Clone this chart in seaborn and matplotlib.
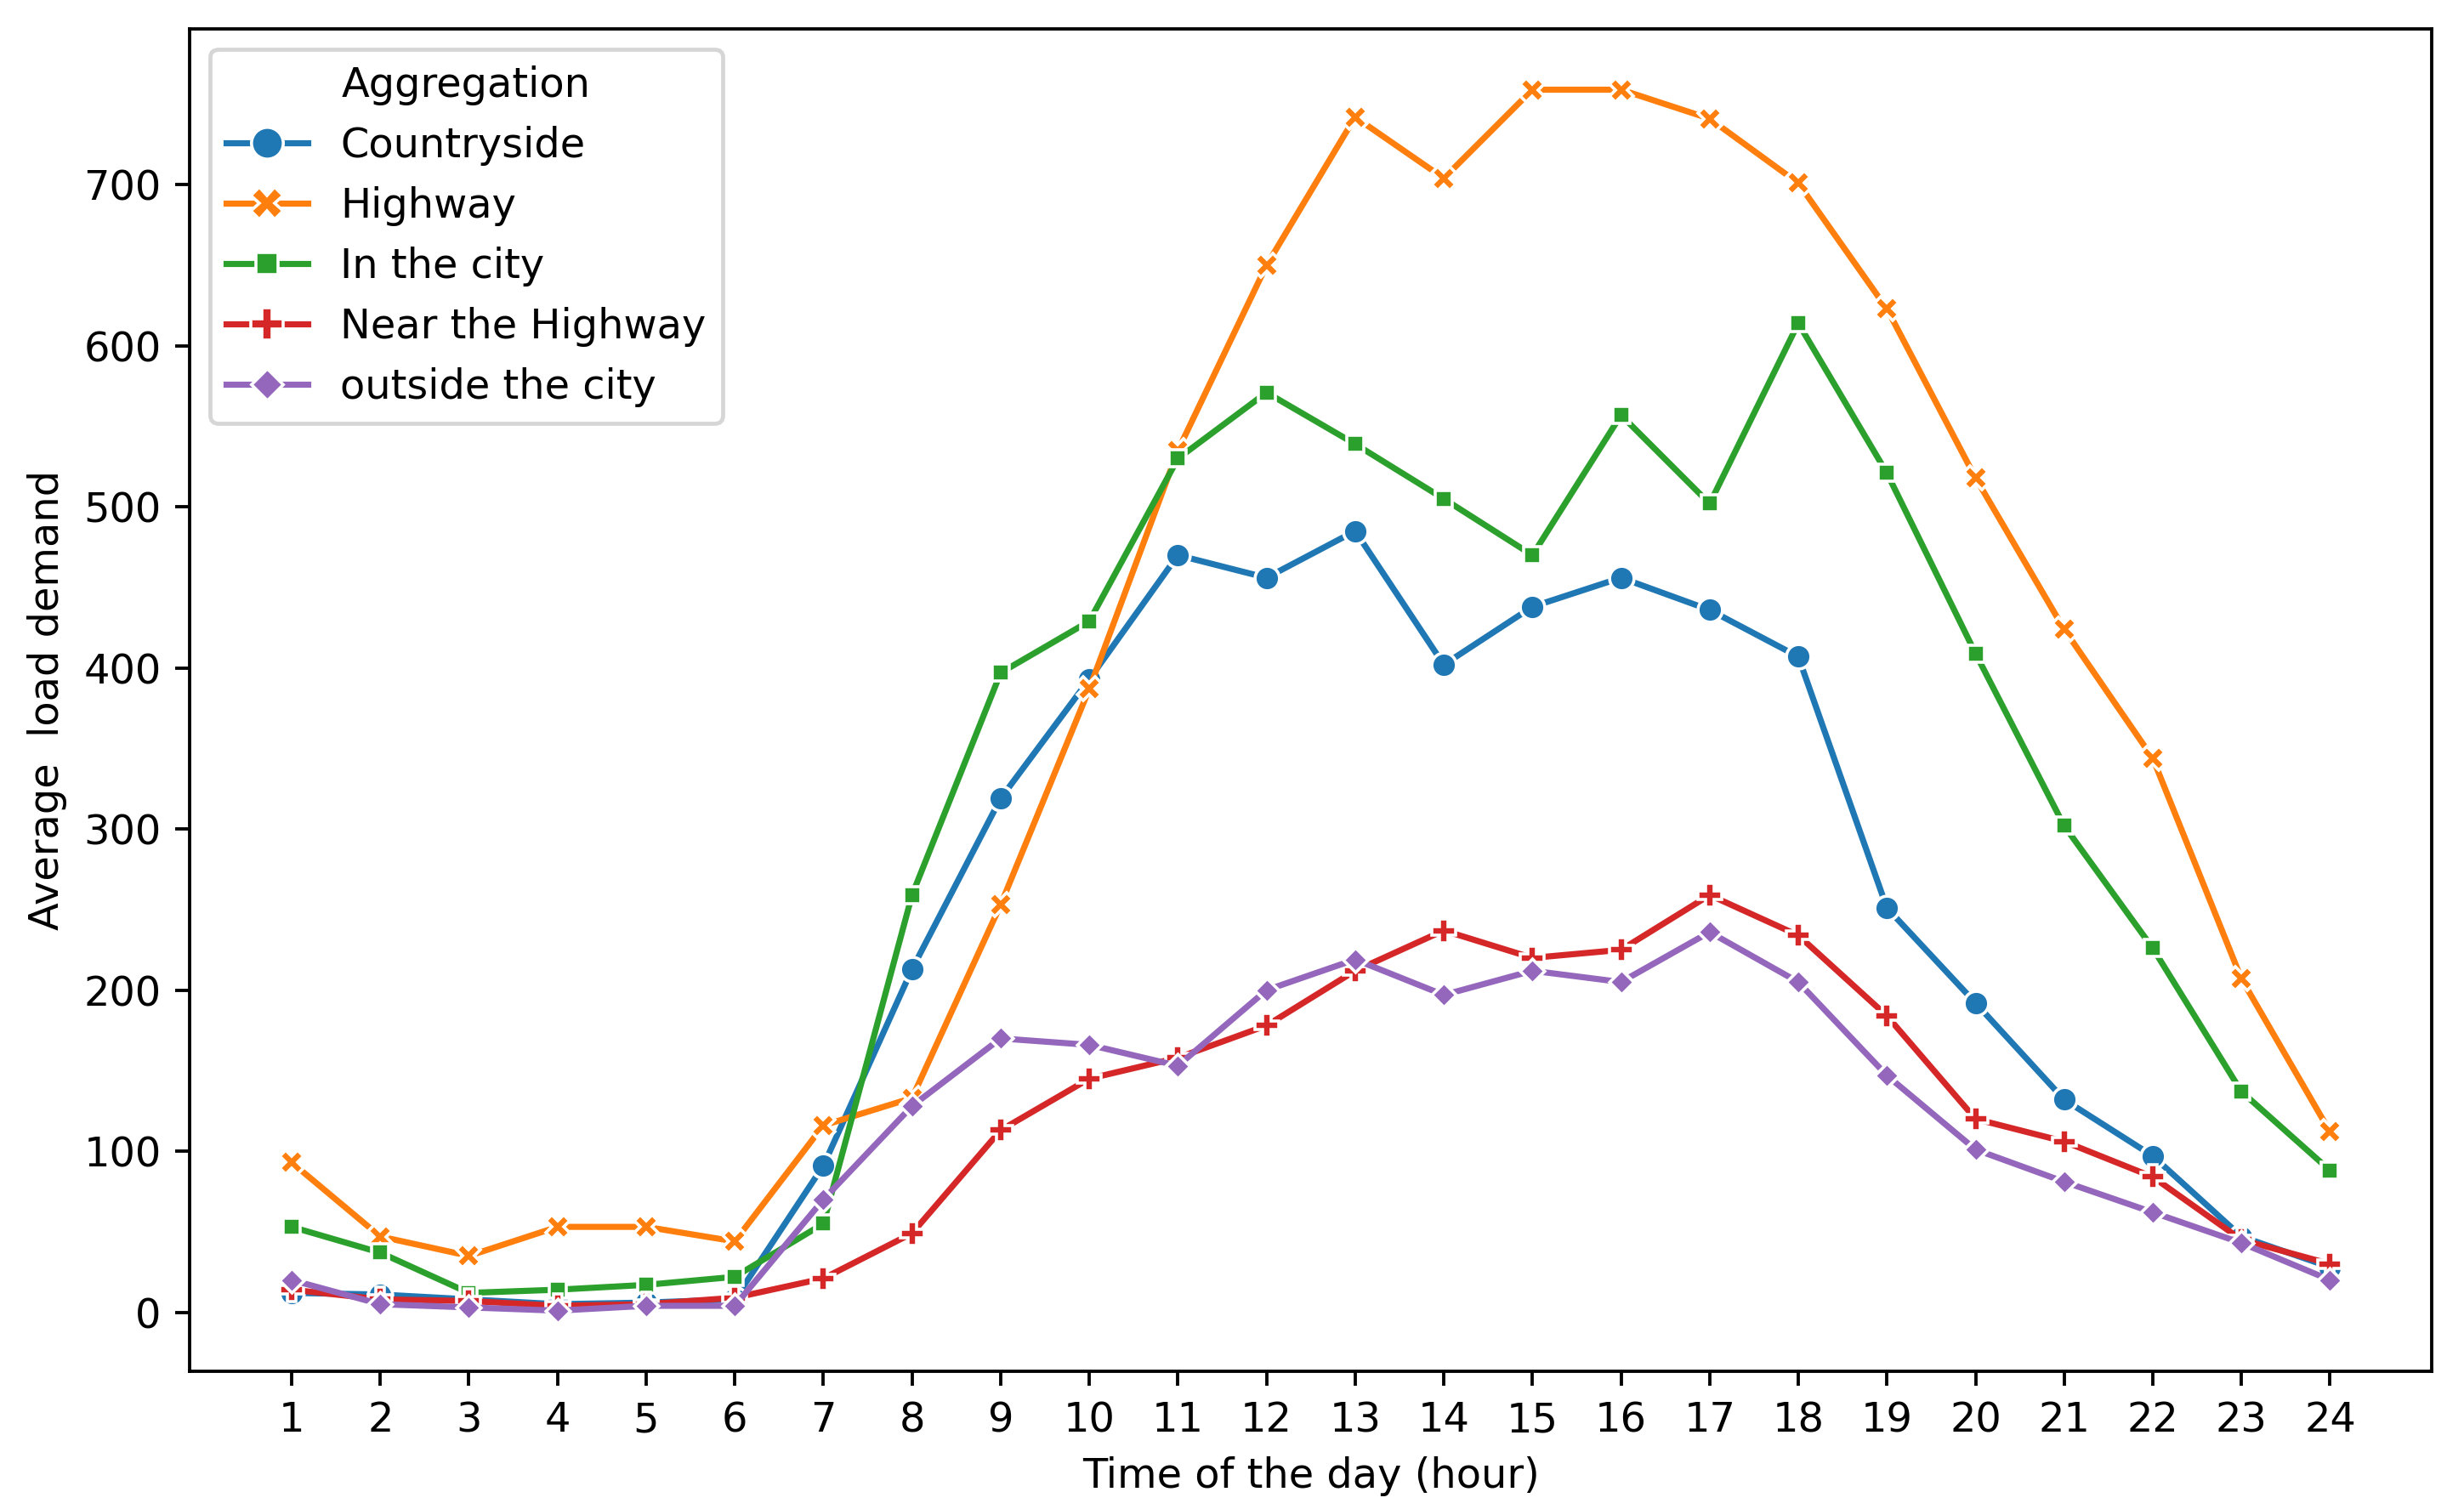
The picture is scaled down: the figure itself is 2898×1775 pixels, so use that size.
import pandas as pd
import seaborn as sns
import matplotlib.pyplot as plt

hours = list(range(1, 25))
groups = ["Countryside", "Highway", "In the city", "Near the Highway", "outside the city"]

countryside = [12, 11, 8, 5, 6, 8, 91, 213, 319, 393, 470, 456, 485, 402, 438, 456, 436, 407, 251, 192, 132, 97, 47, 28]
highway = [93, 47, 35, 53, 53, 44, 116, 133, 253, 387, 535, 650, 742, 704, 759, 759, 741, 701, 623, 518, 424, 344, 207, 112]
in_city = [53, 37, 12, 14, 17, 22, 55, 259, 397, 429, 530, 571, 539, 505, 470, 557, 502, 614, 521, 409, 302, 226, 137, 88]
near_highway = [14, 8, 7, 4, 5, 9, 21, 49, 113, 145, 158, 178, 212, 237, 220, 225, 259, 234, 184, 120, 106, 84, 45, 30]
outside_city = [20, 5, 3, 1, 4, 4, 70, 128, 170, 166, 153, 200, 219, 197, 212, 205, 236, 205, 147, 101, 81, 62, 43, 20]

series = [countryside, highway, in_city, near_highway, outside_city]
rows = []
for name, vals in zip(groups, series):
    for h, v in zip(hours, vals):
        rows.append({"Hour": h, "Aggregation": name, "Load": v})
df = pd.DataFrame(rows)

fig, ax = plt.subplots(figsize=(8.40, 5.145))
sns.lineplot(data=df, x="Hour", y="Load", hue="Aggregation", style="Aggregation",
             markers=True, dashes=False, ax=ax)
ax.set_xticks(hours)
ax.set_xlabel("Time of the day (hour)")
ax.set_ylabel("Average  load demand")
ax.legend(title="Aggregation", loc="upper left", markerscale=1.3)
plt.subplots_adjust(left=0.077, right=0.987, top=0.981, bottom=0.091)
plt.savefig("out.png", dpi=345)
